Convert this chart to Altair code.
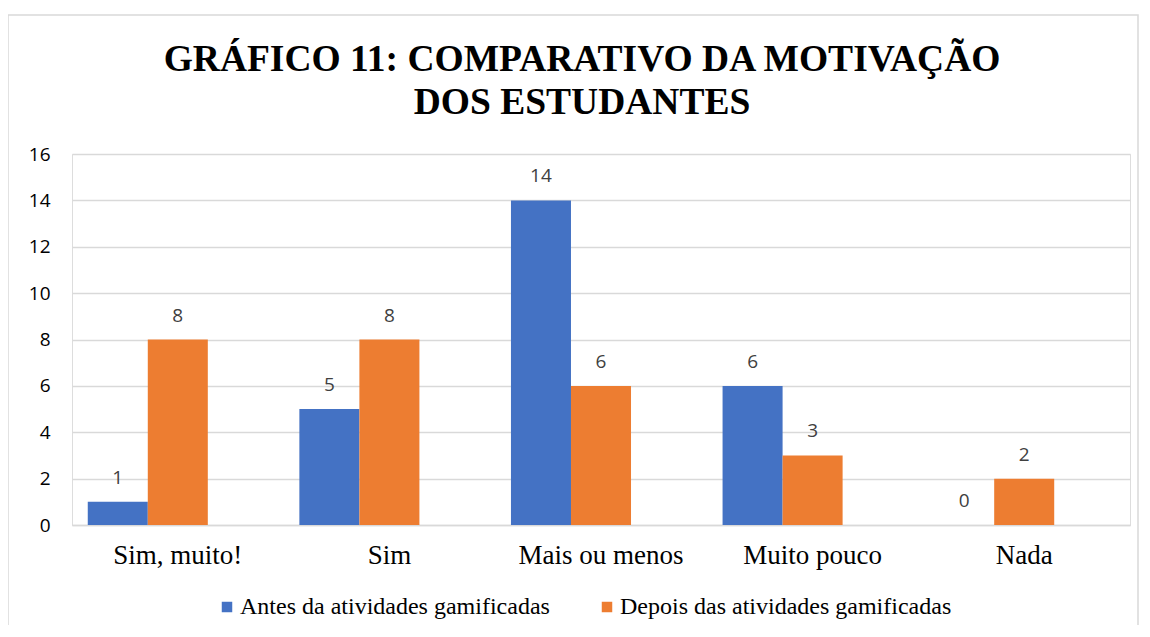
import altair as alt
import pandas as pd

categories = ["Sim, muito!", "Sim", "Mais ou menos", "Muito pouco", "Nada"]
series = ["Antes da atividades gamificadas", "Depois das atividades gamificadas"]
antes = [1, 5, 14, 6, 0]
depois = [8, 8, 6, 3, 2]
y_ticks = [0, 2, 4, 6, 8, 10, 12, 14, 16]

rows = []
for c, a, d in zip(categories, antes, depois):
    rows.append({"cat": c, "serie": series[0], "valor": a})
    rows.append({"cat": c, "serie": series[1], "valor": d})
df = pd.DataFrame(rows)

SERIF = "Liberation Serif"
SANS = "Open Sans"

x = alt.X("cat:N", sort=categories, title=None,
          scale=alt.Scale(paddingInner=0.149, paddingOuter=0.0745),
          axis=alt.Axis(labelFont=SERIF, labelFontSize=27, labelColor="#000000",
                        labelAngle=0, labelPadding=17, ticks=False,
                        domainColor="#d9d9d9", domainWidth=1.5, grid=False))
xo = alt.XOffset("serie:N", scale=alt.Scale(domain=series + ["_vazio"], paddingInner=0, paddingOuter=0))
y = alt.Y("valor:Q", title=None,
          scale=alt.Scale(domain=[0, 16], nice=False),
          axis=alt.Axis(values=y_ticks, labelFont=SANS, labelFontSize=19, labelColor="#000000",
                        labelPadding=22, ticks=False, domain=False,
                        gridColor="#d9d9d9", gridWidth=1.5))
color = alt.Color("serie:N", scale=alt.Scale(domain=series, range=["#4472C4", "#ED7D31"]),
                  title=None,
                  legend=alt.Legend(orient="none", legendX=143, legendY=441, direction="horizontal",
                                    symbolType="square", symbolSize=110, symbolStrokeWidth=0,
                                    labelFont=SERIF, labelFontSize=24, labelColor="#000000",
                                    labelLimit=0, columnPadding=45, labelOffset=1))

base = alt.Chart(df)
bars = base.mark_bar().encode(x=x, xOffset=xo, y=y, color=color)
labels = base.mark_text(dy=-24, font=SANS, fontSize=19, color="#404040").encode(
    x=x, xOffset=xo, y=y, text=alt.Text("valor:Q"))

frame = alt.Chart(alt.Data(values=[{}])).mark_rect(fill=None, stroke="#d9d9d9", strokeWidth=1.5).encode(
    x=alt.value(-64), x2=alt.value(1066), y=alt.value(-139), y2=alt.value(520))

chart = alt.layer(frame, bars, labels).properties(
    width=1058, height=371,
    title=alt.TitleParams(["GRÁFICO 11: COMPARATIVO DA MOTIVAÇÃO", "DOS ESTUDANTES"],
                          font=SERIF, fontSize=37.5, fontWeight="bold", color="#000000",
                          lineHeight=43, anchor="middle", dx=-19, offset=-107),
    autosize=alt.AutoSizeParams(type="none"),
    padding={"left": 64, "top": 146, "right": 10, "bottom": 100},
).configure_view(stroke=None).configure(background="#ffffff")

chart.save("out.html", embed_options={"renderer": "svg", "actions": False})
